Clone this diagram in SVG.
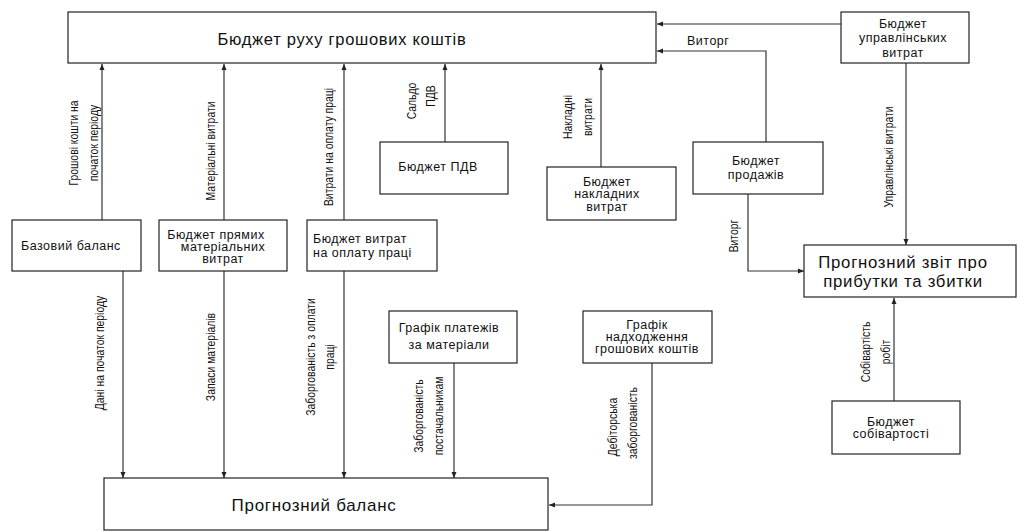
<svg xmlns="http://www.w3.org/2000/svg" width="1024" height="532" viewBox="0 0 1024 532">
<defs>
<marker id="ah" markerWidth="6" markerHeight="6" refX="6" refY="3" orient="auto" markerUnits="userSpaceOnUse">
<path d="M0,0.5 L6,3 L0,5.5 Z" fill="#222"/>
</marker>
<style>
.box{fill:#fff;stroke:#222;stroke-width:1.2}
.t{font-family:"Liberation Sans",Arial,sans-serif;font-size:12.5px;fill:#111;letter-spacing:0.5px}
.c{text-anchor:middle;dominant-baseline:central}
.l{dominant-baseline:central}
.big{font-family:"Liberation Sans",Arial,sans-serif;font-size:16.5px;fill:#111;letter-spacing:0.7px;text-anchor:middle;dominant-baseline:central}
.r{font-family:"Liberation Sans",Arial,sans-serif;font-size:13px;fill:#111;text-anchor:middle;dominant-baseline:central}
.ln{fill:none;stroke:#333;stroke-width:1.2;marker-end:url(#ah)}
</style>
</defs>
<rect width="1024" height="532" fill="#fff"/>

<g id="connectors">
<path class="ln" d="M102,220 V64"/>
<path class="ln" d="M224,220 V64"/>
<path class="ln" d="M344,220 V64"/>
<path class="ln" d="M445,142 V64"/>
<path class="ln" d="M601,167 V64"/>
<path class="ln" d="M841,24 H657"/>
<path class="ln" d="M766,142 V51 H657"/>
<path class="ln" d="M906,63 V245"/>
<path class="ln" d="M748,194 V271 H804"/>
<path class="ln" d="M894,401 V298"/>
<path class="ln" d="M123,271 V478"/>
<path class="ln" d="M224,271 V478"/>
<path class="ln" d="M344,271 V478"/>
<path class="ln" d="M454,363 V478"/>
<path class="ln" d="M652,363 V505 H549"/>

<text class="r" transform="translate(73,143) rotate(-90) scale(0.8,1)">Грошові кошти на</text>
<text class="r" transform="translate(93,143) rotate(-90) scale(0.8,1)">початок періоду</text>
<text class="r" transform="translate(210,151) rotate(-90) scale(0.8,1)">Матеріальні витрати</text>
<text class="r" transform="translate(328,147) rotate(-90) scale(0.8,1)">Витрати на оплату праці</text>
<text class="r" transform="translate(411,101) rotate(-90) scale(0.8,1)">Сальдо</text>
<text class="r" transform="translate(430,96) rotate(-90) scale(0.8,1)">ПДВ</text>
<text class="r" transform="translate(567,117) rotate(-90) scale(0.8,1)">Накладні</text>
<text class="r" transform="translate(587,117) rotate(-90) scale(0.8,1)">витрати</text>
<text class="r" transform="translate(888,157) rotate(-90) scale(0.8,1)">Управлінські витрати</text>
<text class="t l" x="687" y="41">Виторг</text>
<text class="r" transform="translate(733,236) rotate(-90) scale(0.8,1)">Виторг</text>
<text class="r" transform="translate(99,353) rotate(-90) scale(0.8,1)">Дані на початок періоду</text>
<text class="r" transform="translate(210,357) rotate(-90) scale(0.8,1)">Запаси матеріалів</text>
<text class="r" transform="translate(310,357) rotate(-90) scale(0.8,1)">Заборгованість з оплати</text>
<text class="r" transform="translate(329,357) rotate(-90) scale(0.8,1)">праці</text>
<text class="r" transform="translate(418,416) rotate(-90) scale(0.8,1)">Заборгованість</text>
<text class="r" transform="translate(438,416) rotate(-90) scale(0.8,1)">постачальникам</text>
<text class="r" transform="translate(612,427) rotate(-90) scale(0.8,1)">Дебіторська</text>
<text class="r" transform="translate(632,423) rotate(-90) scale(0.8,1)">заборгованість</text>
<text class="r" transform="translate(865,352) rotate(-90) scale(0.8,1)">Собівартість</text>
<text class="r" transform="translate(885,352) rotate(-90) scale(0.8,1)">робіт</text>
</g>

<g id="cashflow">
<rect class="box" x="68" y="12" width="588" height="51"/>
<text class="big" x="342" y="39">Бюджет руху грошових коштів</text>
</g>

<g id="mgmt">
<rect class="box" x="841" y="12" width="128" height="51"/>
<text class="t c" x="903" y="24">Бюджет</text>
<text class="t c" x="903" y="38">управлінських</text>
<text class="t c" x="903" y="53">витрат</text>
</g>

<g id="vat">
<rect class="box" x="380" y="142" width="128" height="52"/>
<text class="t c" x="438" y="167">Бюджет ПДВ</text>
</g>

<g id="overhead">
<rect class="box" x="547" y="167" width="129" height="53"/>
<text class="t c" x="607" y="182">Бюджет</text>
<text class="t c" x="607" y="194">накладних</text>
<text class="t c" x="607" y="207">витрат</text>
</g>

<g id="sales">
<rect class="box" x="693" y="142" width="130" height="52"/>
<text class="t c" x="756" y="161">Бюджет</text>
<text class="t c" x="756" y="175">продажів</text>
</g>

<g id="base">
<rect class="box" x="12" y="220" width="129" height="51"/>
<text class="t l" x="21" y="246">Базовий баланс</text>
</g>

<g id="materials">
<rect class="box" x="159" y="220" width="128" height="51"/>
<text class="t c" x="216" y="235">Бюджет прямих</text>
<text class="t c" x="223" y="247">матеріальних</text>
<text class="t c" x="223" y="259">витрат</text>
</g>

<g id="labor">
<rect class="box" x="307" y="220" width="130" height="51"/>
<text class="t l" x="313" y="239">Бюджет витрат</text>
<text class="t l" x="313" y="253">на оплату праці</text>
</g>

<g id="pnl">
<rect class="box" x="804" y="245" width="212" height="52"/>
<text class="big" style="font-size:16.8px" x="903" y="262">Прогнозний звіт про</text>
<text class="big" style="font-size:16.8px" x="903" y="281">прибутки та збитки</text>
</g>

<g id="payments">
<rect class="box" x="389" y="311" width="128" height="52"/>
<text class="t c" x="449" y="328">Графік платежів</text>
<text class="t c" x="449" y="345">за матеріали</text>
</g>

<g id="receipts">
<rect class="box" x="583" y="311" width="129" height="52"/>
<text class="t c" x="647" y="325">Графік</text>
<text class="t c" x="647" y="337">надходження</text>
<text class="t c" x="647" y="349">грошових коштів</text>
</g>

<g id="cost">
<rect class="box" x="832" y="401" width="128" height="53"/>
<text class="t c" x="891" y="422">Бюджет</text>
<text class="t c" x="891" y="434">собівартості</text>
</g>

<g id="balance">
<rect class="box" x="104" y="478" width="444" height="52"/>
<text class="big" style="font-size:17px" x="314" y="505">Прогнозний баланс</text>
</g>
</svg>
